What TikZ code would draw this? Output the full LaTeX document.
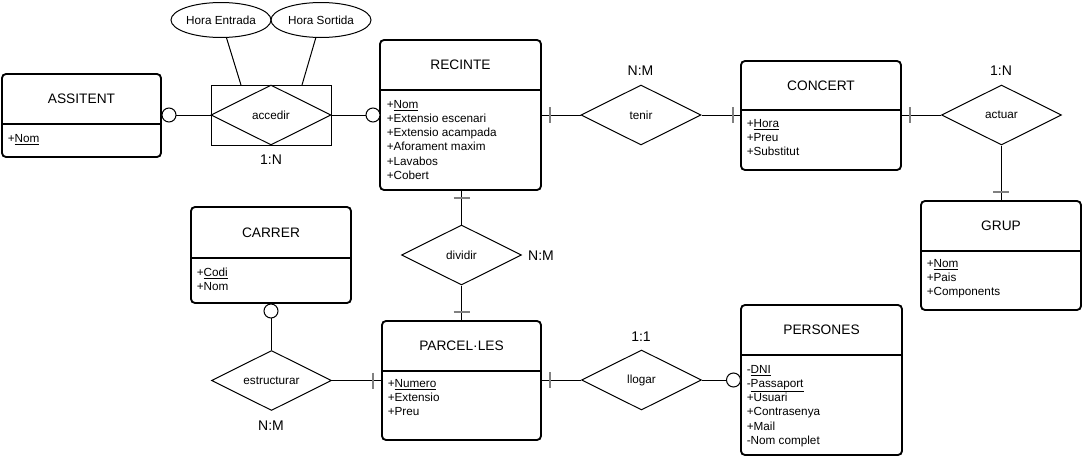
\documentclass[tikz,border=0pt]{standalone}
\usepackage{fontspec}
\setmainfont{Liberation Sans}
\usetikzlibrary{shapes.geometric,fit}

\tikzset{
  entity/.style={draw,line width=1.4pt,rounded corners=3pt,inner sep=0pt},
  divider/.style={line width=1.4pt},
  heading/.style={font=\fontsize{10.3}{12}\selectfont},
  attrs/.style={anchor=north west,inner sep=0pt,align=left,
    font=\fontsize{8.8}{10.7}\selectfont},
  rel/.style={diamond,draw,line width=0.75pt,aspect=2,inner sep=0pt,
    minimum width=90pt,minimum height=45pt,font=\fontsize{8.8}{10.7}\selectfont},
  prop/.style={ellipse,draw,line width=0.75pt,inner sep=0pt,
    minimum width=75pt,minimum height=26.25pt,font=\fontsize{8.8}{10.7}\selectfont},
  card/.style={font=\fontsize{10.5}{12}\selectfont},
  link/.style={line width=0.75pt},
  zero/.style={circle,draw,fill=white,line width=0.75pt,inner sep=0pt,
    minimum size=10.5pt},
  bar/.style={line width=1pt,draw=gray}
}

\begin{document}
\begin{tikzpicture}[x=0.75pt,y=-0.75pt]
  \useasboundingbox (0,0) rectangle (1083,457);

  % entities
  \node [entity,fit={(2,74) (161,157)}] (assitent) {};
  \draw [divider] (assitent.west |- 0,124) -- (assitent.east |- 0,124);
  \node [heading] (assitentT) at (81.5,99) {ASSITENT};
  \node [attrs] (assitentA) at (7.5,133.7) {+\underline{Nom}};

  \node [entity,fit={(380,40) (541,190)}] (recinte) {};
  \draw [divider] (recinte.west |- 0,90) -- (recinte.east |- 0,90);
  \node [heading] (recinteT) at (460.5,65) {RECINTE};
  \node [attrs] (recinteA) at (386.5,99.7) {+\underline{Nom}\\+Extensio escenari\\
    +Extensio acampada\\+Aforament maxim\\+Lavabos\\+Cobert};

  \node [entity,fit={(741,61) (901,170)}] (concert) {};
  \draw [divider] (concert.west |- 0,110) -- (concert.east |- 0,110);
  \node [heading] (concertT) at (821,85.5) {CONCERT};
  \node [attrs] (concertA) at (746.5,118.7) {+\underline{Hora}\\+Preu\\+Substitut};

  \node [entity,fit={(921,201) (1081,310)}] (grup) {};
  \draw [divider] (grup.west |- 0,251) -- (grup.east |- 0,251);
  \node [heading] (grupT) at (1001,225.5) {GRUP};
  \node [attrs] (grupA) at (926.5,258.7) {+\underline{Nom}\\+Pais\\+Components};

  \node [entity,fit={(191,207) (351,303)}] (carrer) {};
  \draw [divider] (carrer.west |- 0,258) -- (carrer.east |- 0,258);
  \node [heading] (carrerT) at (271,232.5) {CARRER};
  \node [attrs] (carrerA) at (196.5,267.7) {+\underline{Codi}\\+Nom};

  \node [entity,fit={(382,321) (541,440)}] (parceles) {};
  \draw [divider] (parceles.west |- 0,371) -- (parceles.east |- 0,371);
  \node [heading] (parcelesT) at (461.5,346) {PARCEL·LES};
  \node [attrs] (parcelesA) at (387.5,378.7) {+\underline{Numero}\\+Extensio\\+Preu};

  \node [entity,fit={(741,305) (902,455)}] (persones) {};
  \draw [divider] (persones.west |- 0,355) -- (persones.east |- 0,355);
  \node [heading] (personesT) at (821.5,330) {PERSONES};
  \node [attrs] (personesA) at (746.5,364.7) {-\underline{DNI}\\-\underline{Passaport}\\
    +Usuari\\+Contrasenya\\+Mail\\-Nom complet};

  % relationships
  \node [draw,line width=0.75pt,inner sep=0pt,fit={(211,85) (331,145)}] (accbox) {};
  \node [rel] (accedir) at (271,115) {accedir};
  \node [rel] (tenir) at (641,115) {tenir};
  \node [rel] (actuar) at (1001.5,115) {actuar};
  \node [rel] (dividir) at (461.5,255) {dividir};
  \node [rel] (estructurar) at (271.5,380.5) {estructurar};
  \node [rel] (llogar) at (641.5,380) {llogar};

  \node [prop] (horaE) at (221,20) {Hora Entrada};
  \node [prop] (horaS) at (321,20) {Hora Sortida};
  \coordinate (accE) at (241,85);
  \coordinate (accS) at (302,85);
  \draw [link] (horaE) -- (accE);
  \draw [link] (horaS) -- (accS);

  % cardinalities
  \node [card] (cAcc) at (271,160) {1:N};
  \node [card] (cTen) at (640.5,71) {N:M};
  \node [card] (cAct) at (1001,71) {1:N};
  \node [card] (cDiv) at (541,256) {N:M};
  \node [card] (cEst) at (271,426) {N:M};
  \node [card] (cLlo) at (641,337) {1:1};

  % connectors
  \draw [link] (assitent.east |- accedir.west) -- (accedir.west);
  \draw [link] (accedir.east) -- (recinte.west |- accedir.east);
  \draw [link] (recinte.east |- tenir.west) -- (tenir.west);
  \draw [link] (tenir.east) -- (concert.west |- tenir.east);
  \draw [link] (concert.east |- actuar.west) -- (actuar.west);
  \draw [link] (actuar.south) -- (grup.north -| actuar.south);
  \draw [link] (recinte.south -| dividir.north) -- (dividir.north);
  \draw [link] (dividir.south) -- (parceles.north -| dividir.south);
  \draw [link] (carrer.south -| estructurar.north) -- (estructurar.north);
  \draw [link] (estructurar.east) -- (parceles.west |- estructurar.east);
  \draw [link] (parceles.east |- llogar.west) -- (llogar.west);
  \draw [link] (llogar.east) -- (persones.west |- llogar.east);

  % markers
  \draw [bar] (550,107) -- (550,123);
  \draw [bar] (733,107) -- (733,123);
  \draw [bar] (910,107) -- (910,123);
  \draw [bar] (993,192) -- (1009,192);
  \draw [bar] (453.5,198) -- (469.5,198);
  \draw [bar] (453.5,312) -- (469.5,312);
  \draw [bar] (373,372.5) -- (373,388.5);
  \draw [bar] (550,372) -- (550,388);

  \node [zero] (zAss) at (169,115) {};
  \node [zero] (zRec) at (373,115) {};
  \node [zero] (zCar) at (271,311) {};
  \node [zero] (zPer) at (733.5,380) {};
\end{tikzpicture}
\end{document}
